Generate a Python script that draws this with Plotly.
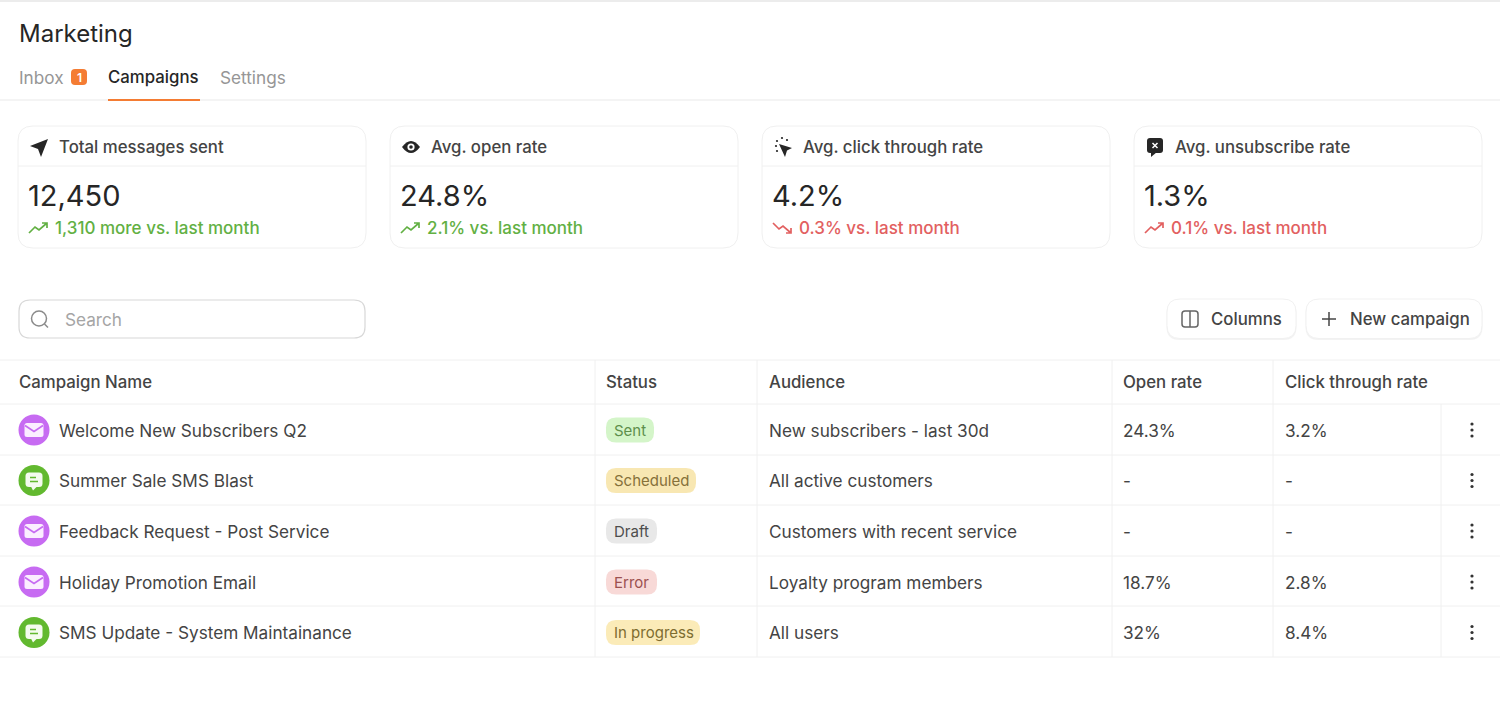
import plotly.graph_objects as go

# texts and values
page_title = "Marketing"
tab_labels = ["Inbox", "Campaigns", "Settings"]
inbox_badge = "1"

kpi_titles = ["Total messages sent", "Avg. open rate", "Avg. click through rate", "Avg. unsubscribe rate"]
kpi_values = ["12,450", "24.8%", "4.2%", "1.3%"]
kpi_deltas = ["1,310 more vs. last month", "2.1% vs. last month", "0.3% vs. last month", "0.1% vs. last month"]
kpi_trends = ["up", "up", "down", "up"]
kpi_good = [True, True, False, False]

column_names = ["Campaign Name", "Status", "Audience", "Open rate", "Click through rate"]
campaign_names = [
    "Welcome New Subscribers Q2",
    "Summer Sale SMS Blast",
    "Feedback Request - Post Service",
    "Holiday Promotion Email",
    "SMS Update - System Maintainance",
]
campaign_channels = ["email", "sms", "email", "email", "sms"]
campaign_status = ["Sent", "Scheduled", "Draft", "Error", "In progress"]
campaign_audience = [
    "New subscribers - last 30d",
    "All active customers",
    "Customers with recent service",
    "Loyalty program members",
    "All users",
]
open_rates = ["24.3%", "-", "-", "18.7%", "32%"]
click_rates = ["3.2%", "-", "-", "2.8%", "8.4%"]

FONT = "Inter"
DARK = "#262626"
TEXT = "#444444"
GREY = "#969696"
LINE = "#f0f0f0"
ORANGE = "#f47c33"
GREEN = "#62b043"
RED = "#e26060"
PURPLE = "#c76bf2"
SMS_GREEN = "#62b92f"

CARD_X = [18, 390, 762, 1134]
CARD_W = 348
COL_X = [19, 606, 769, 1123, 1285]
COL_LINES = [595, 757, 1112, 1273]
ROW_LINES = [404, 455, 505, 556, 606, 657]
ROW_Y = [430, 480.5, 531, 582, 632.5]
PILL = {
    "Sent": (48, "#d4f5c9", "#5e8f4c"),
    "Scheduled": (90, "#f8e7b2", "#86713a"),
    "Draft": (51, "#e8e8e8", "#4d4d4d"),
    "Error": (51, "#f8d9d7", "#9c5150"),
    "In progress": (94, "#fbebb8", "#7e6d30"),
}

fig = go.Figure()
shapes = []
notes = []


def text(x, y, s, size=17.2, color=TEXT, weight=400, anchor="left"):
    # annotations sit about a pixel to the right of the asked x
    if anchor == "left":
        x -= 1
    notes.append(dict(
        x=x, y=y, text=s, showarrow=False, xanchor=anchor, yanchor="middle",
        xref="x", yref="y", borderpad=0,
        font=dict(family=FONT, size=size, color=color, weight=weight),
    ))


def rrect(x0, y0, x1, y1, r):
    return (
        f"M {x0+r} {y0} L {x1-r} {y0} Q {x1} {y0} {x1} {y0+r} L {x1} {y1-r} Q {x1} {y1} {x1-r} {y1} "
        f"L {x0+r} {y1} Q {x0} {y1} {x0} {y1-r} L {x0} {y0+r} Q {x0} {y0} {x0+r} {y0} Z"
    )


def path(d, fill=None, color=None, width=0):
    shapes.append(dict(
        type="path", path=d, xref="x", yref="y", layer="below",
        fillcolor=fill or "rgba(0,0,0,0)",
        line=dict(color=color or "rgba(0,0,0,0)", width=width),
    ))


def rule(x0, y0, x1, y1, color=LINE, width=1):
    shapes.append(dict(type="line", x0=x0, y0=y0, x1=x1, y1=y1, xref="x", yref="y",
                       layer="below", line=dict(color=color, width=width)))


def circle(cx, cy, r, fill=None, color=None, width=0):
    shapes.append(dict(type="circle", x0=cx-r, y0=cy-r, x1=cx+r, y1=cy+r, xref="x", yref="y",
                       layer="below", fillcolor=fill or "rgba(0,0,0,0)",
                       line=dict(color=color or "rgba(0,0,0,0)", width=width)))


def trend(x, y, kind, color):
    if kind == "up":
        path(f"M {x} {y+5} L {x+6} {y-1} L {x+10} {y+2} L {x+18} {y-5} M {x+13} {y-5} L {x+18} {y-5} L {x+18} {y}",
             color=color, width=1.7)
    else:
        path(f"M {x} {y-5} L {x+6} {y+1} L {x+10} {y-2} L {x+18} {y+5} M {x+13} {y+5} L {x+18} {y+5} L {x+18} {y}",
             color=color, width=1.7)


def kpi_icon(i, cx, cy):
    if i == 0:
        path(f"M {cx-9} {cy-1} L {cx+9} {cy-8} L {cx+2} {cy+10} L {cx-1} {cy+2} Z", fill=DARK)
    elif i == 1:
        path(f"M {cx-9} {cy} Q {cx} {cy-12} {cx+9} {cy} Q {cx} {cy+12} {cx-9} {cy} Z", fill=DARK)
        circle(cx, cy, 3.6, fill="white")
        circle(cx, cy, 1.8, fill=DARK)
    elif i == 2:
        path(f"M {cx-4} {cy-3} L {cx+9} {cy+1} L {cx+4} {cy+3.5} L {cx+2} {cy+10} Z", fill=DARK)
        for dx, dy in [(-7, -1), (-6, -6), (-1, -9), (4, -7), (-6, 4)]:
            circle(cx+dx, cy+dy, 1.1, fill=DARK)
    else:
        path(rrect(cx-8, cy-9, cx+8, cy+6, 3), fill=DARK)
        path(f"M {cx-4} {cy+5} L {cx-4} {cy+10} L {cx+2} {cy+5} Z", fill=DARK)
        path(f"M {cx-2.5} {cy-4} L {cx+2.5} {cy+1} M {cx+2.5} {cy-4} L {cx-2.5} {cy+1}", color="white", width=1.5)


def channel_icon(kind, cx, cy):
    if kind == "email":
        circle(cx, cy, 15.5, fill=PURPLE)
        path(rrect(cx-9.5, cy-7, cx+9.5, cy+7, 2.5), fill="#fbeeff")
        path(f"M {cx-9} {cy-4.5} L {cx} {cy+1.5} L {cx+9} {cy-4.5}", color=PURPLE, width=1.6)
    else:
        circle(cx, cy, 15.5, fill=SMS_GREEN)
        path(rrect(cx-8.5, cy-8, cx+8.5, cy+6.5, 3.5), fill="#f4fbef")
        path(f"M {cx-3} {cy+6} L {cx-1} {cy+10} L {cx+3} {cy+6} Z", fill="#f4fbef")
        path(f"M {cx-4} {cy-3} L {cx+2} {cy-3} M {cx-4} {cy+1} L {cx+4} {cy+1}", color=SMS_GREEN, width=1.5)


# page header
rule(0, 1, 1500, 1, color="#ececec", width=2)
text(19, 33, page_title, size=24, color=DARK)
text(19, 77, tab_labels[0], color=GREY)
path(rrect(71, 69, 87, 85, 4), fill=ORANGE)
text(79, 77, inbox_badge, size=12, color="white", weight=600, anchor="center")
text(108, 77, tab_labels[1], size=16.8, color=DARK, weight=500)
text(220, 77, tab_labels[2], color=GREY)
rule(0, 100, 1500, 100, color="#e9e9e9")
rule(108, 100, 200, 100, color=ORANGE, width=2)

# kpi cards
for i, cx in enumerate(CARD_X):
    path(rrect(cx, 126, cx+CARD_W, 248, 15), fill="white", color=LINE, width=1)
    rule(cx, 166, cx+CARD_W, 166)
    kpi_icon(i, cx+21, 147)
    text(cx+41, 147, kpi_titles[i], size=16.8, color=TEXT, weight=500)
    text(cx+10, 195, kpi_values[i], size=29, color=DARK)
    color = GREEN if kpi_good[i] else RED
    trend(cx+11, 228, kpi_trends[i], color)
    text(cx+37, 228, kpi_deltas[i], size=17, color=color, weight=500)

# search and buttons
path(rrect(19, 300, 365, 338, 11), fill="white", color="#d8d8d8", width=1.2)
circle(39, 318.5, 7.5, color="#8b8b8b", width=1.5)
rule(44.5, 324, 48, 327.5, color="#8b8b8b", width=1.5)
text(65, 319, "Search", color="#a5a5a5")

for x0, x1 in [(1167, 1296), (1306, 1482)]:
    path(rrect(x0-0.5, 300, x1+0.5, 340, 13), fill="#f3f3f3")
    path(rrect(x0, 299, x1, 338.5, 13), fill="white", color="#f1f1f1", width=1)
path(rrect(1182, 311, 1198, 327, 3), color="#666666", width=1.5)
rule(1190, 311, 1190, 327, color="#666666", width=1.5)
text(1211, 319, "Columns", size=16.8, color=TEXT, weight=500)
rule(1322, 319, 1336, 319, color="#444444", width=1.5)
rule(1329, 312, 1329, 326, color="#444444", width=1.5)
text(1350, 319, "New campaign", size=16.8, color=TEXT, weight=500)

# table grid
rule(0, 360, 1500, 360)
for y in ROW_LINES:
    rule(0, y, 1500, y)
for x in COL_LINES:
    rule(x, 360, x, 657)
rule(1441, 404, 1441, 657)

for x, name in zip(COL_X, column_names):
    text(x, 382, name, size=16.8, color=TEXT, weight=500)

# table rows
for i, y in enumerate(ROW_Y):
    channel_icon(campaign_channels[i], 34, y)
    text(59, y, campaign_names[i])
    w, bg, fg = PILL[campaign_status[i]]
    path(rrect(606, y-12.5, 606+w, y+12.5, 10), fill=bg)
    text(614, y, campaign_status[i], size=15, color=fg)
    text(COL_X[2], y, campaign_audience[i])
    text(COL_X[3], y, open_rates[i])
    text(COL_X[4], y, click_rates[i])
    for dy in (-6, 0, 6):
        circle(1472, y+dy, 1.6, fill="#333333")

fig.update_layout(
    width=1500, height=720, margin=dict(l=0, r=0, t=0, b=0),
    paper_bgcolor="white", plot_bgcolor="white", showlegend=False,
    xaxis=dict(range=[0, 1500], visible=False, fixedrange=True),
    yaxis=dict(range=[720, 0], visible=False, fixedrange=True),
    shapes=shapes, annotations=notes,
)

fig.write_html("out.html", post_script="document.body.style.margin='0';", config=dict(displayModeBar=False))
